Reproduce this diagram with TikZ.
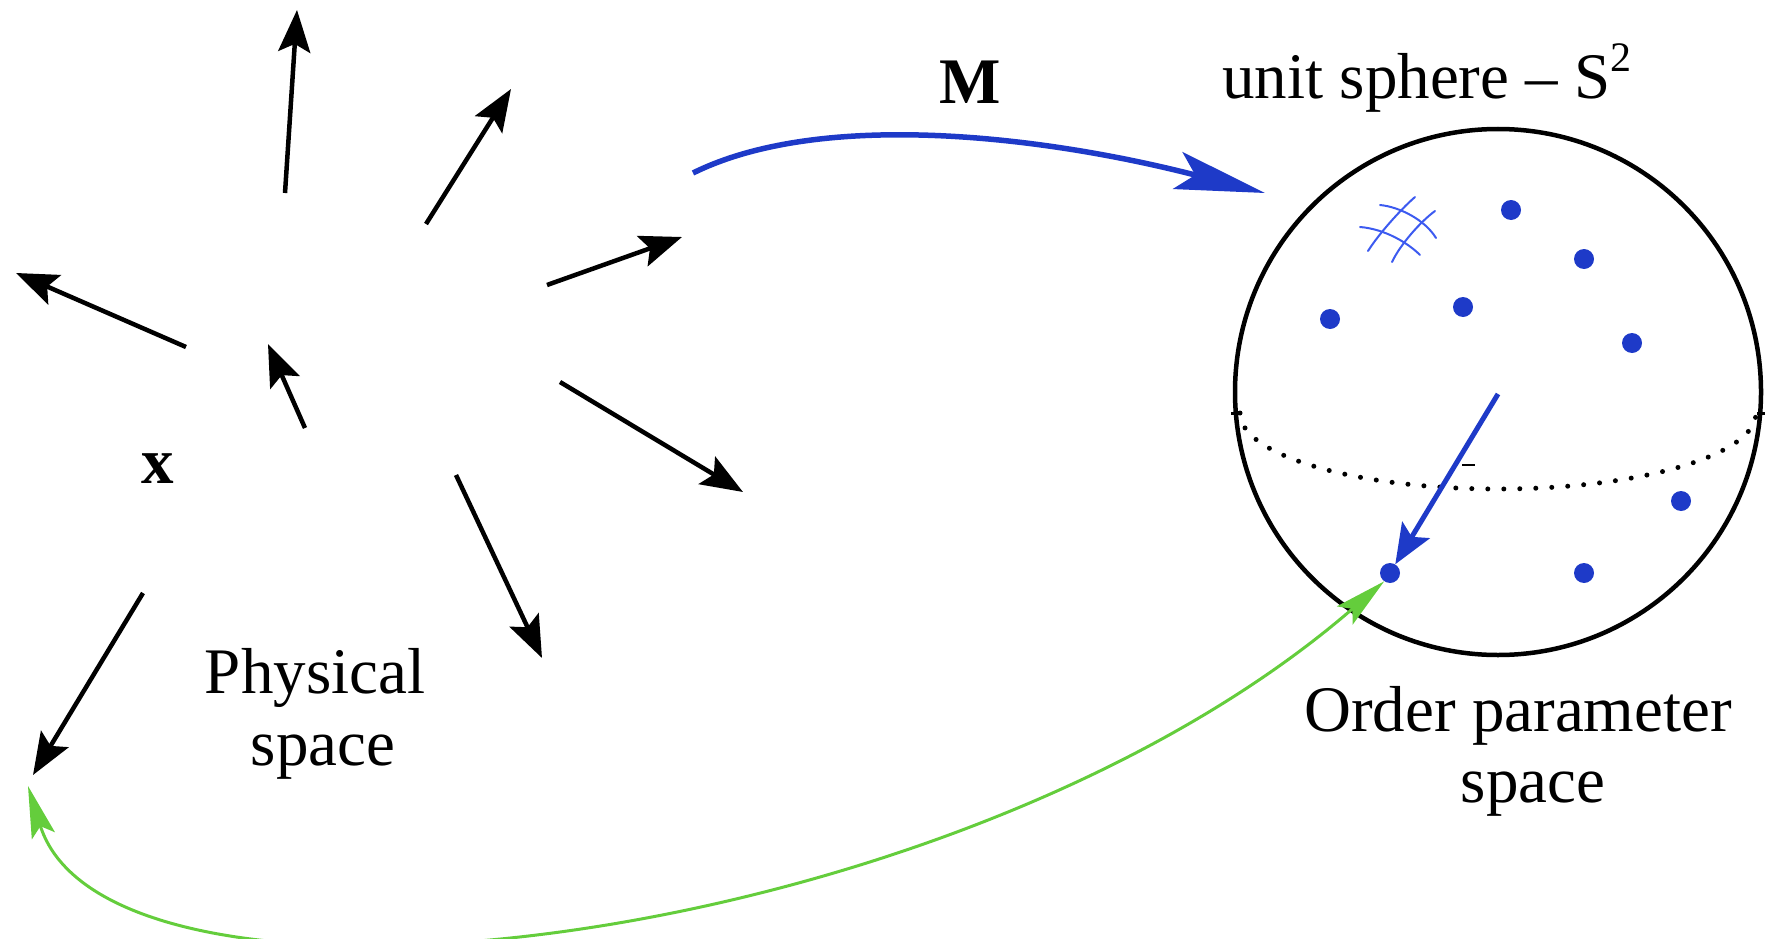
\documentclass[tikz,border=0pt]{standalone}
\usepackage{fontspec}
\setmainfont{Liberation Serif}
\usetikzlibrary{arrows.meta}
\definecolor{dotblue}{RGB}{30,58,200}
\definecolor{gridblue}{RGB}{60,90,240}
\definecolor{linkgreen}{RGB}{100,205,60}
\begin{document}
\begin{tikzpicture}[x=1pt,y=-1pt,
  vec/.style={line width=4.5pt, -{Stealth[length=42pt,width=32pt,inset=8pt]}},
  mapblue/.style={draw=dotblue, line width=5.5pt, -{Stealth[length=90pt,width=38pt,inset=18pt]}},
  innerblue/.style={draw=dotblue, line width=5pt, -{Stealth[length=40pt,width=32pt,inset=8pt]}},
  greenlink/.style={draw=linkgreen, line width=3pt, {Stealth[length=52pt,width=24pt,inset=10pt]}-{Stealth[length=52pt,width=24pt,inset=10pt]}},
  gridline/.style={draw=gridblue, line width=2pt, line cap=round},
  lbl/.style={font=\fontsize{65}{72}\selectfont, inner sep=0pt, anchor=base},
  blbl/.style={font=\fontsize{65}{72}\selectfont\bfseries, inner sep=0pt, anchor=base},
  dotnode/.style={circle, fill=dotblue, inner sep=0pt, minimum size=20pt}]
\useasboundingbox (0,0) rectangle (1767,939);

% vector field in physical space
\draw[vec] (285,193) -- (297,10);
\draw[vec] (426,224) -- (511,89);
\draw[vec] (547,285) -- (682,237);
\draw[vec] (186,347) -- (16,273);
\draw[vec] (305,428) -- (268,344);
\draw[vec] (560,382) -- (743,492);
\draw[vec] (456,475) -- (542,658);
\draw[vec] (143,593) -- (33,775);

% labels
\node[blbl] (xlbl) at (158,483) {x};
\node[lbl] (phys1) at (315,693) {Physical};
\node[lbl] (phys2) at (323,765) {space};
\node[blbl] (Mlbl) at (970,104) {M};
\node[lbl] (unit) at (1427,99) {unit sphere – S\raisebox{0.42em}{\fontsize{42}{42}\selectfont 2}};
\node[lbl] (ord1) at (1518,731) {Order parameter};
\node[lbl] (ord2) at (1533,802) {space};

% sphere
\node[draw, circle, line width=4.5pt, minimum size=526pt, inner sep=0pt] (sphere) at (1498,392) {};
\draw[line width=5pt, line cap=round, dash pattern=on 0pt off 16pt]
  (1240,413) arc[start angle=180, end angle=360, x radius=258pt, y radius=76pt];
\draw[line width=3pt] (1231,413) -- (1239,413);
\draw[line width=3pt] (1757,413) -- (1765,413);
\draw[line width=2pt] (1462,465) -- (1475,465);

% grid patch
\draw[gridline] (1380,205) .. controls (1400,207) and (1425,220) .. (1436,238);
\draw[gridline] (1360,227) .. controls (1385,229) and (1408,243) .. (1420,255);
\draw[gridline] (1415,197) .. controls (1400,210) and (1378,235) .. (1368,251);
\draw[gridline] (1435,211) .. controls (1420,222) and (1400,245) .. (1392,262);

% points on the sphere
\node[dotnode] (d1) at (1511,210) {};
\node[dotnode] (d2) at (1584,259) {};
\node[dotnode] (d3) at (1330,319) {};
\node[dotnode] (d4) at (1463,307) {};
\node[dotnode] (d5) at (1632,343) {};
\node[dotnode] (d6) at (1681,501) {};
\node[dotnode] (d7) at (1584,573) {};
\node[dotnode] (d8) at (1390,573) {};

% order parameter vector
\coordinate (c0) at (1498,394);
\draw[innerblue] (c0) -- (d8);

% map M
\coordinate (ms) at (693,173);
\coordinate (me) at (1265,193);
\draw[mapblue] (ms) .. controls (820,110) and (1040,135) .. (me);

% green link
\coordinate (gl) at (28,786);
\draw[greenlink] (gl) .. controls (109,1048) and (953,955) .. (d8.235);
\end{tikzpicture}
\end{document}
